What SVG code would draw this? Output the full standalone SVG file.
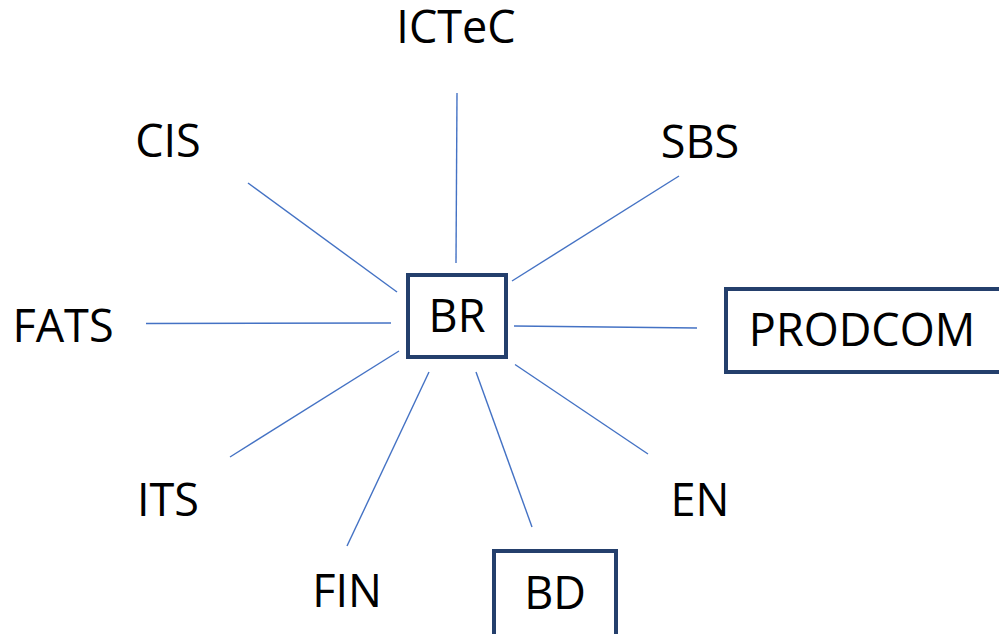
<svg xmlns="http://www.w3.org/2000/svg" width="999" height="634" viewBox="0 0 999 634">
<style>
.lbl{font-family:"Open Sans","Liberation Sans",sans-serif;font-size:45px;fill:#000;text-anchor:middle}
.box{fill:#fff;stroke:#243F6C;stroke-width:4}
.con line{stroke:#4472C4;stroke-width:1.4}
</style>
<rect width="999" height="634" fill="#fff"/>
<g id="connectors" class="con">
<line x1="457" y1="93" x2="456" y2="263"/>
<line x1="679" y1="176" x2="512" y2="281"/>
<line x1="248" y1="183" x2="397" y2="292"/>
<line x1="146" y1="323.5" x2="391" y2="323"/>
<line x1="514" y1="326" x2="697" y2="328"/>
<line x1="230" y1="457" x2="399" y2="351"/>
<line x1="515" y1="364.5" x2="648" y2="454"/>
<line x1="429" y1="372" x2="347" y2="546"/>
<line x1="476" y1="372" x2="532" y2="527"/>
</g>
<g id="BR"><rect class="box" x="408" y="275" width="98" height="82"/><text class="lbl" x="457" y="332">BR</text></g>
<g id="PRODCOM"><rect class="box" x="726" y="289" width="290" height="83"/><text class="lbl" x="862" y="346">PRODCOM</text></g>
<g id="BD"><rect class="box" x="494" y="551" width="122" height="100"/><text class="lbl" x="555" y="609">BD</text></g>
<g id="ICTeC"><text class="lbl" x="456" y="43">ICTeC</text></g>
<g id="CIS"><text class="lbl" x="168" y="157">CIS</text></g>
<g id="SBS"><text class="lbl" x="700" y="158">SBS</text></g>
<g id="FATS"><text class="lbl" x="63" y="342">FATS</text></g>
<g id="ITS"><text class="lbl" x="168" y="516">ITS</text></g>
<g id="EN"><text class="lbl" x="700" y="516">EN</text></g>
<g id="FIN"><text class="lbl" x="347" y="607">FIN</text></g>
</svg>
